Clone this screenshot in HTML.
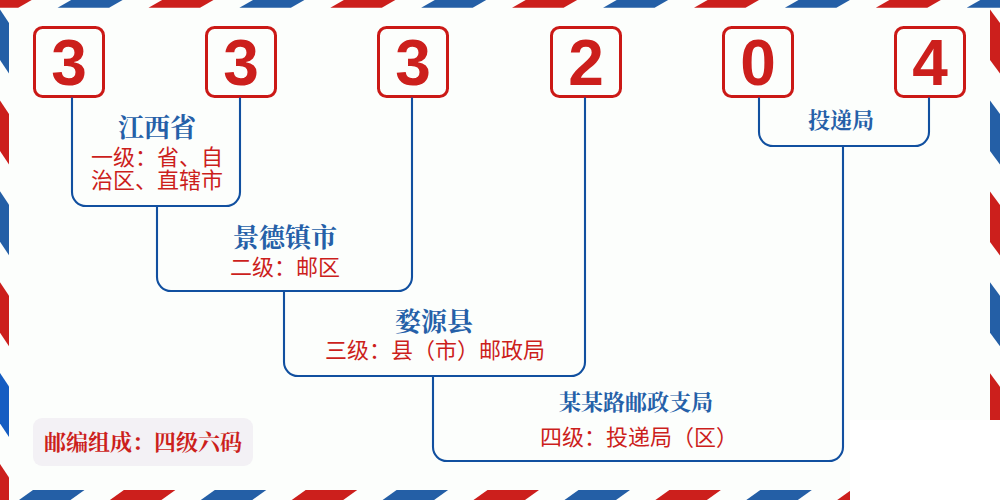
<!DOCTYPE html>
<html lang="zh-CN">
<head>
<meta charset="utf-8">
<title>333204 邮政编码</title>
<style>
html,body{margin:0;padding:0;background:#fcfefc;}
body{width:1000px;height:500px;overflow:hidden;font-family:"Liberation Sans","Noto Sans CJK SC",sans-serif;}
.envelope{position:absolute;left:0;top:0;z-index:1;width:1000px;height:500px;background:#fcfefc;overflow:hidden;}
.envelope svg.art{position:absolute;left:0;top:0;width:1000px;height:500px;display:block;}
.patch{position:absolute;left:850px;top:420px;width:150px;height:80px;background:#fff;}
.digit{position:absolute;top:26px;width:72px;height:72px;box-sizing:border-box;border:3px solid #cb1916;border-radius:9.5px;background:#fcfefc;}
.legend{position:absolute;left:33px;top:418px;width:220px;height:48px;border-radius:9px;background:#f3f1f5;}
.t{position:absolute;margin:0;color:#cc1f1c;white-space:nowrap;text-align:center;line-height:1;transform:translateX(-50%);z-index:2;}
.digit .t{left:50%;top:2px;font-size:64px;font-weight:bold;color:#cc1f1c;font-family:"Liberation Sans",sans-serif;}
.title{font-family:"Liberation Serif","Noto Serif CJK SC",serif;font-weight:bold;font-size:26px;color:#2560a8;}
.title.s{font-size:22px;}
.legend .title{color:#cc1f1c;}
.desc{font-family:"Liberation Sans","Noto Sans CJK SC",sans-serif;font-size:22px;line-height:23px;color:#cc1f1c;}
</style>
</head>
<body>
<div class="envelope">

<svg class="art" viewBox="0 0 1000 500" width="1000" height="500" aria-hidden="true">
<g class="stripes"><polygon fill="#cc1f1c" points="-33.3,7.8 18.2,7.8 31.7,0 -19.7,0"/><polygon fill="#cc1f1c" points="-57.9,490 -6.4,490 -20.4,500 -71.9,500"/><polygon fill="#245fa6" points="57.6,7.8 109.1,7.8 122.6,0 71.2,0"/><polygon fill="#245fa6" points="33.0,490 84.5,490 70.5,500 19.0,500"/><polygon fill="#cc1f1c" points="148.5,7.8 200.0,7.8 213.5,0 162.1,0"/><polygon fill="#cc1f1c" points="123.9,490 175.4,490 161.4,500 109.9,500"/><polygon fill="#245fa6" points="239.4,7.8 290.9,7.8 304.4,0 253.0,0"/><polygon fill="#245fa6" points="214.8,490 266.3,490 252.3,500 200.8,500"/><polygon fill="#cc1f1c" points="330.3,7.8 381.8,7.8 395.3,0 343.9,0"/><polygon fill="#cc1f1c" points="305.7,490 357.2,490 343.2,500 291.7,500"/><polygon fill="#245fa6" points="421.2,7.8 472.7,7.8 486.2,0 434.8,0"/><polygon fill="#245fa6" points="396.6,490 448.1,490 434.1,500 382.6,500"/><polygon fill="#cc1f1c" points="512.1,7.8 563.6,7.8 577.1,0 525.7,0"/><polygon fill="#cc1f1c" points="487.5,490 539.0,490 525.0,500 473.5,500"/><polygon fill="#245fa6" points="603.1,7.8 654.6,7.8 668.1,0 616.7,0"/><polygon fill="#245fa6" points="578.5,490 630.0,490 616.0,500 564.5,500"/><polygon fill="#cc1f1c" points="694.0,7.8 745.5,7.8 759.0,0 707.6,0"/><polygon fill="#cc1f1c" points="669.4,490 720.9,490 706.9,500 655.4,500"/><polygon fill="#245fa6" points="784.9,7.8 836.4,7.8 849.9,0 798.5,0"/><polygon fill="#245fa6" points="760.3,490 811.8,490 797.8,500 746.3,500"/><polygon fill="#cc1f1c" points="875.8,7.8 927.3,7.8 940.8,0 889.4,0"/><polygon fill="#cc1f1c" points="851.2,490 902.7,490 888.7,500 837.2,500"/><polygon fill="#245fa6" points="966.7,7.8 1018.2,7.8 1031.7,0 980.3,0"/><polygon fill="#245fa6" points="942.1,490 993.6,490 979.6,500 928.1,500"/><polygon fill="#cc1f1c" points="1057.6,7.8 1109.1,7.8 1122.6,0 1071.2,0"/><polygon fill="#cc1f1c" points="1033.0,490 1084.5,490 1070.5,500 1019.0,500"/><polygon fill="#245fa6" points="0,9.5 9,23.0 9,73.5 0,60.0"/><polygon fill="#cc1f1c" points="990,9.6 1000,23.1 1000,73.6 990,60.1"/><polygon fill="#cc1f1c" points="0,100.4 9,113.9 9,164.4 0,150.9"/><polygon fill="#245fa6" points="990,100.5 1000,114.0 1000,164.5 990,151.0"/><polygon fill="#245fa6" points="0,191.3 9,204.8 9,255.3 0,241.8"/><polygon fill="#cc1f1c" points="990,191.4 1000,204.9 1000,255.4 990,241.9"/><polygon fill="#cc1f1c" points="0,282.2 9,295.7 9,346.2 0,332.7"/><polygon fill="#245fa6" points="990,282.3 1000,295.8 1000,346.3 990,332.8"/><polygon fill="#155dc2" points="0,373.1 9,386.6 9,437.1 0,423.6"/><polygon fill="#cc1f1c" points="990,373.2 1000,386.7 1000,437.2 990,423.7"/><polygon fill="#cc1f1c" points="0,464.0 9,477.5 9,528.0 0,514.5"/><polygon fill="#245fa6" points="990,464.1 1000,477.6 1000,528.1 990,514.6"/><polygon fill="#245fa6" points="0,555.0 9,568.5 9,619.0 0,605.5"/><polygon fill="#cc1f1c" points="990,555.1 1000,568.6 1000,619.1 990,605.6"/></g>
</svg>
<div class="patch"></div>
<div class="legend"><p class="t title s" style="left:110px;top:14px">邮编组成：四级六码</p></div>
<div class="digit" style="left:33px"><span class="t">3</span></div>
<div class="digit" style="left:205px"><span class="t">3</span></div>
<div class="digit" style="left:377px"><span class="t">3</span></div>
<div class="digit" style="left:550px"><span class="t">2</span></div>
<div class="digit" style="left:722px"><span class="t">0</span></div>
<div class="digit" style="left:894px"><span class="t">4</span></div>
<svg class="art" viewBox="0 0 1000 500" width="1000" height="500" aria-hidden="true">
<g fill="none" stroke="#1150a0" stroke-width="2.1"><path d="M72 97.5V192A14 14 0 0 0 86 206H226A14 14 0 0 0 240 192V97.5"/><path d="M157 206V277A14 14 0 0 0 171 291H398A14 14 0 0 0 412 277V97.5"/><path d="M284 291V362A14 14 0 0 0 298 376H571A14 14 0 0 0 585 362V97.5"/><path d="M433 376V447A14 14 0 0 0 447 461H829A14 14 0 0 0 843 447V146"/><path d="M759 97.5V132A14 14 0 0 0 773 146H915A14 14 0 0 0 929 132V97.5"/></g>
</svg>
<p class="t title" style="left:157px;top:116px">江西省</p>
<p class="t desc" style="left:157px;top:146px">一级：省、自<br>治区、直辖市</p>
<p class="t title" style="left:285px;top:226px">景德镇市</p>
<p class="t desc" style="left:285px;top:256px">二级：邮区</p>
<p class="t title" style="left:434px;top:310px">婺源县</p>
<p class="t desc" style="left:435px;top:339px">三级：县（市）邮政局</p>
<p class="t title s" style="left:636px;top:392px">某某路邮政支局</p>
<p class="t desc" style="left:639px;top:426px">四级：投递局（区）</p>
<p class="t title s" style="left:841px;top:110px">投递局</p>
</div>
</body>
</html>
